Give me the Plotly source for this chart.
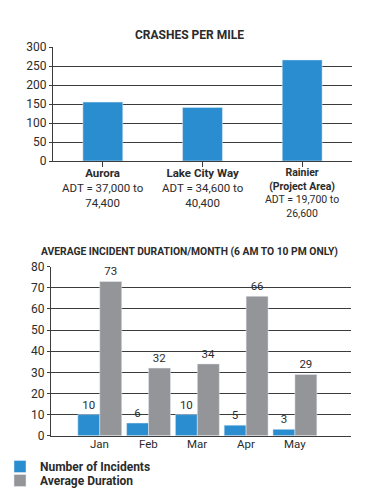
import plotly.graph_objects as go

# ---- data ----
crash_names = ["Aurora", "Lake City Way", "Rainier<br>(Project Area)"]
crash_adt = ["ADT = 37,000 to<br>74,400", "ADT = 34,600 to<br>40,400", "ADT = 19,700 to<br>26,600"]
crashes_per_mile = [155, 141, 266]

months = ["Jan", "Feb", "Mar", "Apr", "May"]
incidents = [10, 6, 10, 5, 3]
avg_duration = [73, 32, 34, 66, 29]

BLUE = "#2a8dcf"
GRAY = "#939598"
TXT = "#2b2b2b"
GRID = "#3c3c3c"
FONT = "Roboto"

fig = go.Figure()

fig.add_trace(go.Bar(
    x=list(range(len(crashes_per_mile))), y=crashes_per_mile,
    marker_color=BLUE, width=0.4, showlegend=False,
    xaxis="x", yaxis="y", hoverinfo="skip"))

fig.add_trace(go.Bar(
    x=months, y=incidents, name="Number of Incidents",
    marker_color=BLUE, text=incidents, textposition="outside",
    textfont=dict(size=11.5, color=TXT, family=FONT), cliponaxis=False,
    xaxis="x2", yaxis="y2", legend="legend"))
fig.add_trace(go.Bar(
    x=months, y=avg_duration, name="Average Duration",
    marker_color=GRAY, text=avg_duration, textposition="outside",
    textfont=dict(size=11.5, color=TXT, family=FONT), cliponaxis=False,
    xaxis="x2", yaxis="y2", legend="legend2"))

W, H = 378, 493
def px(x): return x / W
def py(y): return 1 - y / H

annotations = []
for i, (nm, adt) in enumerate(zip(crash_names, crash_adt)):
    small = "<br>" in nm
    fs = 10.5 if small else 11.5
    annotations.append(dict(
        x=i, xref="x", y=py(164), yref="paper", yanchor="top", xanchor="center",
        text=f"<b>{nm}</b><br>{adt}", showarrow=False, align="center",
        font=dict(size=fs, color=TXT, family=FONT)))

for m in months:
    annotations.append(dict(
        x=m, xref="x2", y=py(443.5), yref="paper", yanchor="middle", xanchor="center",
        text=m, showarrow=False, font=dict(size=11.5, color=TXT, family=FONT)))

annotations.append(dict(
    x=px(189), y=py(35), xref="paper", yref="paper", yanchor="middle",
    text="<b>CRASHES PER MILE</b>",
    showarrow=False, font=dict(size=12, color=TXT, family=FONT)))
annotations.append(dict(
    x=px(189), y=py(251), xref="paper", yref="paper", yanchor="middle",
    text="<b>AVERAGE INCIDENT DURATION/MONTH (6 AM TO 10 PM ONLY)</b>",
    showarrow=False, font=dict(size=10.3, color=TXT, family=FONT)))

leg_common = dict(xanchor="left", yanchor="middle", orientation="v",
                  font=dict(size=12, color=TXT, family=FONT, weight="bold"),
                  bgcolor="rgba(0,0,0,0)", itemwidth=30)

fig.update_layout(
    width=W, height=H, margin=dict(l=0, r=0, t=0, b=0, autoexpand=False),
    paper_bgcolor="white", plot_bgcolor="white",
    font=dict(family=FONT, color=TXT, size=11.5),
    barmode="group", bargap=0.1, bargroupgap=0,
    annotations=annotations,
    xaxis=dict(domain=[px(53), px(352)], range=[-0.5, 2.5], anchor="y",
               showticklabels=False, tickmode="array", tickvals=[0, 1, 2],
               tickson="boundaries", ticks="outside", ticklen=5, tickcolor=GRID,
               showline=True, linecolor=GRID, linewidth=1.2, showgrid=False,
               zeroline=False),
    yaxis=dict(domain=[py(161), py(47)], range=[0, 300], dtick=50, anchor="x",
               showline=True, linecolor=GRID, linewidth=1.2, showgrid=True,
               gridcolor=GRID, gridwidth=1.1, ticks="outside", ticklen=3,
               tickcolor=GRID, zeroline=False, tickfont=dict(size=12, color=TXT)),
    xaxis2=dict(domain=[px(51), px(351)], range=[-1.0, 5.15], anchor="y2",
                type="category", ticks="", showticklabels=False, showline=True,
                linecolor=GRID, linewidth=1.2, showgrid=False, zeroline=False),
    yaxis2=dict(domain=[py(435.7), py(266.7)], range=[0, 80], dtick=10, anchor="x2",
                showline=True, linecolor=GRID, linewidth=1.2, showgrid=True,
                gridcolor=GRID, gridwidth=1.1, ticks="outside", ticklen=3,
                tickcolor=GRID, zeroline=False, tickfont=dict(size=12, color=TXT)),
    legend=dict(x=px(0), y=py(466.5), **leg_common),
    legend2=dict(x=px(0), y=py(480.5), **leg_common),
)

fig.write_html("out.html", config={"displayModeBar": False},
               post_script="document.body.style.margin='0';document.body.style.overflow='hidden';")
